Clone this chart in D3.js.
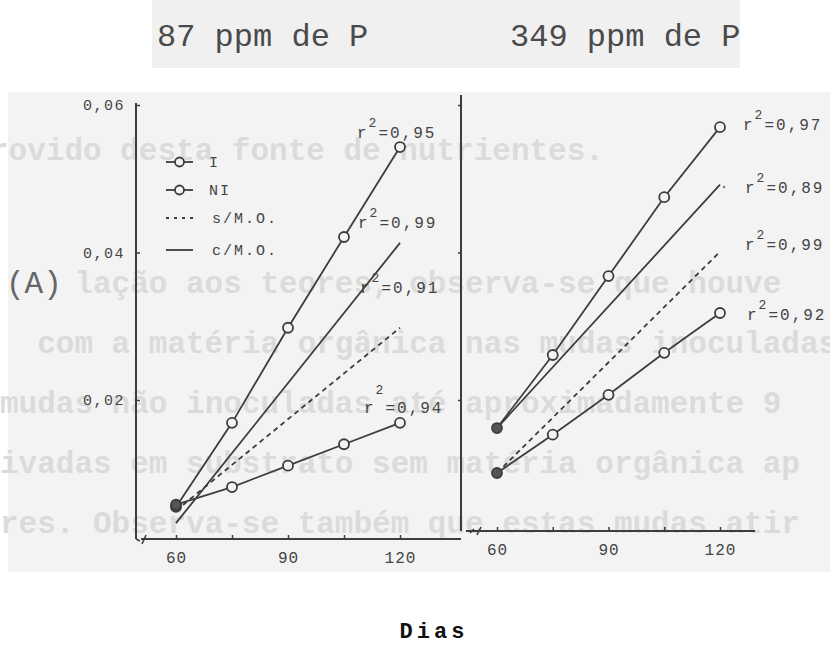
<!DOCTYPE html>
<html>
<head>
<meta charset="utf-8">
<script src="https://cdn.jsdelivr.net/npm/d3@7"></script>
<style>
  body { margin: 0; background: #fff; }
  svg { display: block; }
</style>
</head>
<body>
<div id="chart"></div>
<script>
// Data (teor de P x dias)
var days = [60, 75, 90, 105, 120];
var lineDays = [60, 120];
var xTickLabels = [60, 90, 120];
var yTickValues = [0.02, 0.04, 0.06];

// 87 ppm de P
var iLow = [0.0055, 0.0169, 0.0298, 0.0421, 0.0543];
var niLow = [0.0058, 0.0082, 0.0111, 0.0140, 0.0169];
var comLow = [0.0033, 0.0413];
var semLow = [0.0050, 0.0298];
var r2Low = ["0,95", "0,99", "0,91", "0,94"];

// 349 ppm de P
var iHigh = [0.0162, 0.0261, 0.0368, 0.0475, 0.0570];
var niHigh = [0.0101, 0.0153, 0.0207, 0.0264, 0.0318];
var comHigh = [0.0162, 0.0492];
var semHigh = [0.0101, 0.0401];
var r2High = ["0,97", "0,89", "0,99", "0,92"];

var titles = ["87 ppm de P", "349 ppm de P"];
var legendLabels = ["I", "NI", "s/M.O.", "c/M.O."];
var xLabel = "Dias";
var panelLabel = "(A)";

// text showing through from the back of the page
var ghostLines = [
    "rovido desta fonte de nutrientes.",
    "",
    "    lação aos teores, observa-se que houve",
    "  com a matéria orgânica nas mudas inoculadas",
    "mudas não inoculadas até aproximadamente 9",
    "ivadas em substrato sem matéria orgânica ap",
    "res. Observa-se também que estas mudas atir"
];

var svgWidth = 830;
var svgHeight = 662;
var ink = "#3d3d3d";
var mono = "'Liberation Mono', 'DejaVu Sans Mono', monospace";

var svg = d3.select("#chart")
    .append("svg")
    .attr("width", svgWidth)
    .attr("height", svgHeight);

// Paper backgrounds
svg.append("rect")
    .attr("x", 152).attr("y", 0)
    .attr("width", 588).attr("height", 68)
    .attr("fill", "#f0f0f0");

svg.append("rect")
    .attr("x", 8).attr("y", 92)
    .attr("width", 822).attr("height", 480)
    .attr("fill", "#f3f3f3");

// Ghost text (leading spaces become an x offset)
svg.selectAll(".ghost")
    .data(ghostLines.filter(d => d.trim() != ""))
    .enter()
    .append("text")
    .attr("x", (d, i) => i == 0 ? -10 : (d.length - d.trimStart().length) * 18.6)
    .attr("y", (d, i) => i == 0 ? 160 : 293 + (i - 1) * 60)
    .attr("font-family", mono)
    .attr("font-weight", "bold")
    .attr("font-size", "31px")
    .attr("fill", "#dbdbdb")
    .text(d => d.trim())
    .classed("ghost", true);

// Titles
svg.selectAll(".title")
    .data(titles)
    .enter()
    .append("text")
    .attr("x", (d, i) => i == 0 ? 157 : 510)
    .attr("y", 46)
    .attr("font-family", mono)
    .attr("font-size", "32px")
    .attr("fill", "#4a4a4a")
    .text(d => d)
    .classed("title", true);

// Scales
var yScale = d3.scaleLinear().domain([0, 0.06]).range([547.5, 105]);
var xLeft = d3.scaleLinear().domain([60, 120]).range([176, 400]);
var xRight = d3.scaleLinear().domain([60, 120]).range([497, 720]);

// Axes lines
function axisLine(x1, y1, x2, y2) {
    svg.append("line")
        .attr("x1", x1).attr("y1", y1)
        .attr("x2", x2).attr("y2", y2)
        .attr("stroke", ink)
        .attr("stroke-width", 2);
}
axisLine(136, 103, 136, 539);
axisLine(141, 539, 461, 539);
axisLine(461, 95, 461, 531);
axisLine(466, 531, 755, 531);

// break marks
svg.append("path")
    .attr("d", "M136,539 L140,541 M142,544 L146,535 M470,533 L474,529 M477,535 L481,527")
    .attr("fill", "none")
    .attr("stroke", ink)
    .attr("stroke-width", 1.6);

// x axes
function xAxis(scale, y) {
    var g = svg.append("g")
        .attr("transform", `translate(0, ${y})`)
        .call(d3.axisBottom(scale)
            .tickValues(days)
            .tickFormat(d => xTickLabels.includes(d) ? d : "")
            .tickSizeInner(-4)
            .tickSizeOuter(0)
            .tickPadding(13));
    g.select(".domain").remove();
    g.selectAll("line").attr("stroke", ink).attr("stroke-width", 1.5);
    g.selectAll("text")
        .attr("font-family", mono)
        .attr("font-size", "16px")
        .attr("letter-spacing", "1px")
        .attr("fill", "#444");
}
xAxis(xLeft, 539);
xAxis(xRight, 531);

// y axis (left panel, labels)
var leftAxis = svg.append("g")
    .attr("transform", "translate(136, 0)")
    .call(d3.axisLeft(yScale)
        .tickValues(yTickValues)
        .tickFormat(d => d3.format(".2f")(d).replace(".", ","))
        .tickSizeInner(-4)
        .tickSizeOuter(0)
        .tickPadding(11));
leftAxis.select(".domain").remove();
leftAxis.selectAll("line").attr("stroke", ink).attr("stroke-width", 1.5);
leftAxis.selectAll("text")
    .attr("font-family", mono)
    .attr("font-size", "15px")
    .attr("letter-spacing", "1.5px")
    .attr("fill", "#444");

var rightAxis = svg.append("g")
    .attr("transform", "translate(461, 0)")
    .call(d3.axisLeft(yScale)
        .tickValues(yTickValues)
        .tickFormat("")
        .tickSizeInner(3)
        .tickSizeOuter(0));
rightAxis.select(".domain").remove();
rightAxis.selectAll("line").attr("stroke", ink).attr("stroke-width", 1.5);

// Panel label
svg.append("text")
    .attr("x", 6).attr("y", 293)
    .attr("font-family", mono)
    .attr("font-size", "31px")
    .attr("fill", "#666")
    .text(panelLabel);

// Lines and markers
function drawPanel(xScale, iVals, niVals, comVals, semVals) {
    var line = d3.line()
        .x(d => xScale(d[0]))
        .y(d => yScale(d[1]));

    svg.append("path")
        .attr("d", line(lineDays.map((d, i) => [d, comVals[i]])))
        .attr("fill", "none")
        .attr("stroke", ink)
        .attr("stroke-width", 1.8);

    svg.append("path")
        .attr("d", line(lineDays.map((d, i) => [d, semVals[i]])))
        .attr("fill", "none")
        .attr("stroke", ink)
        .attr("stroke-width", 1.8)
        .attr("stroke-dasharray", "5,4");

    [iVals, niVals].forEach(vals => {
        var pts = days.map((d, i) => [d, vals[i]]);
        svg.append("path")
            .attr("d", line(pts))
            .attr("fill", "none")
            .attr("stroke", ink)
            .attr("stroke-width", 1.8);
        svg.selectAll(null)
            .data(pts)
            .enter()
            .append("circle")
            .attr("cx", d => xScale(d[0]))
            .attr("cy", d => yScale(d[1]))
            .attr("r", 5)
            .attr("fill", (d, i) => i == 0 ? "#555" : "#f3f3f3")
            .attr("stroke", ink)
            .attr("stroke-width", 1.8);
    });
}
drawPanel(xLeft, iLow, niLow, comLow, semLow);
drawPanel(xRight, iHigh, niHigh, comHigh, semHigh);

// r2 labels
function r2Label(x, y, val, up) {
    var t = svg.append("text")
        .attr("x", x).attr("y", y)
        .attr("font-family", mono)
        .attr("font-size", "16px")
        .attr("letter-spacing", "2px")
        .attr("fill", "#444");
    t.append("tspan").text("r");
    t.append("tspan").attr("dy", -up).attr("font-size", "13px").text("2");
    t.append("tspan").attr("dy", up).text("=" + val);
}
r2Label(357, 138, r2Low[0], 11);
r2Label(358, 228, r2Low[1], 11);
r2Label(360, 293, r2Low[2], 11);
r2Label(364, 413, r2Low[3], 19);

r2Label(743, 130, r2High[0], 11);
r2Label(745, 193, r2High[1], 11);
r2Label(745, 250, r2High[2], 11);
r2Label(747, 320, r2High[3], 11);

svg.append("circle")
    .attr("cx", 724).attr("cy", 187)
    .attr("r", 1.3)
    .attr("fill", "#777");

// Legend
var legend = svg.append("g");
legendLabels.forEach((lab, i) => {
    var y = [162, 190, 218, 250][i];
    var row = legend.append("g").attr("transform", `translate(0, ${y})`);
    var seg = row.append("line")
        .attr("x1", 166).attr("x2", 193)
        .attr("stroke", ink)
        .attr("stroke-width", 1.8);
    if (i == 2) seg.attr("stroke-dasharray", "3,5");
    if (i < 2) {
        row.append("circle")
            .attr("cx", 179.5).attr("r", 4.5)
            .attr("fill", "#f3f3f3")
            .attr("stroke", ink)
            .attr("stroke-width", 1.8);
    }
    row.append("text")
        .attr("x", i < 2 ? 209 : 212)
        .attr("y", 5)
        .attr("font-family", mono)
        .attr("font-size", "15px")
        .attr("letter-spacing", "2px")
        .attr("fill", "#444")
        .text(lab);
});

// x label
svg.append("text")
    .attr("x", 434).attr("y", 638)
    .attr("text-anchor", "middle")
    .attr("font-family", mono)
    .attr("font-weight", "bold")
    .attr("font-size", "22px")
    .attr("letter-spacing", "4px")
    .attr("fill", "#111")
    .text(xLabel);
</script>
</body>
</html>
